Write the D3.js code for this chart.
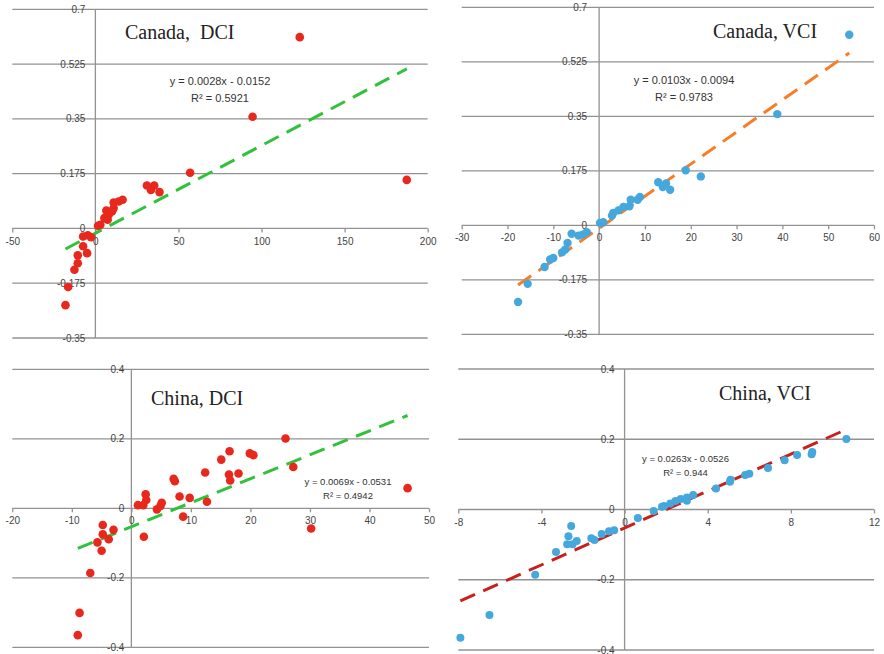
<!DOCTYPE html>
<html>
<head>
<meta charset="utf-8">
<script src="https://cdn.jsdelivr.net/npm/d3@7"></script>
<style>
  html, body { margin: 0; padding: 0; background: #fff; }
  svg { display: block; }
  .tick-label { font-family: "Liberation Sans", Arial, sans-serif; fill: #444; }
  .title { font-family: "Liberation Serif", "Times New Roman", serif; fill: #222; }
  .eq { font-family: "Liberation Sans", Arial, sans-serif; fill: #333; }
</style>
</head>
<body>
<svg id="chart" width="884" height="654"></svg>
<script>
// ---- data ----
const canadaDci = [
  [123, 0.611], [94.6, 0.357], [187.4, 0.155], [57, 0.178],
  [31, 0.137], [35.4, 0.137], [33.4, 0.123], [38.6, 0.116],
  [16.4, 0.0915], [14, 0.086], [11, 0.083], [11, 0.065], [10, 0.054],
  [6.6, 0.057], [8, 0.044], [5.4, 0.033], [7.4, 0.028], [3, 0.012], [1.6, 0.0085],
  [-2.6, -0.028], [-4.6, -0.022], [-7.4, -0.026], [-7.4, -0.057], [-5, -0.079],
  [-10.6, -0.086], [-10.6, -0.111], [-12.6, -0.132], [-16.4, -0.187], [-18, -0.245]
];
const canadaVci = [
  [54.6, 0.612], [38.9, 0.357], [18.9, 0.177], [22.2, 0.157],
  [12.9, 0.138], [13.9, 0.123], [14.6, 0.134], [15.5, 0.114],
  [8.9, 0.091], [8.4, 0.082], [6.9, 0.082], [6.6, 0.061], [5.3, 0.059],
  [4.2, 0.048], [3.1, 0.040], [2.8, 0.031], [0.9, 0.0096], [0.2, 0.0075],
  [-6, -0.027], [-4.5, -0.033], [-3.6, -0.03], [-2.7, -0.022], [-6.9, -0.057],
  [-7.4, -0.078], [-8.1, -0.087], [-10, -0.105], [-10.7, -0.110],
  [-11.9, -0.134], [-15.6, -0.188], [-17.7, -0.246]
];
const chinaDci = [
  [25.9, 0.201], [27.2, 0.119], [46.4, 0.058], [30.2, -0.058],
  [16.5, 0.164], [15.1, 0.140], [19.9, 0.158], [20.5, 0.153], [12.4, 0.103],
  [16.4, 0.097], [18, 0.1], [16.6, 0.08], [7.1, 0.085], [7.3, 0.078],
  [8.1, 0.034], [9.8, 0.03], [12.7, 0.019], [8.7, -0.024],
  [2.4, 0.040], [2.5, 0.024], [1.1, 0.009], [2, 0.009], [4.3, -0.003],
  [4.9, 0.007], [5.1, 0.016], [2.1, -0.082],
  [-4.8, -0.048], [-3, -0.062], [-4.8, -0.075], [-3.8, -0.089], [-5.7, -0.098],
  [-5, -0.122], [-6.9, -0.186], [-8.7, -0.301], [-9, -0.365]
];
const chinaVci = [
  [10.67, 0.201], [9.03, 0.164], [9.0, 0.157], [8.3, 0.155], [7.7, 0.140],
  [6.9, 0.118], [6.0, 0.102], [5.8, 0.098], [5.1, 0.085], [5.07, 0.079],
  [4.4, 0.060], [3.3, 0.041], [3.0, 0.034], [3.0, 0.025], [2.7, 0.030],
  [2.45, 0.024], [2.2, 0.017], [1.9, 0.010], [1.8, 0.008], [1.4, -0.004],
  [0.64, -0.024], [-0.5, -0.059], [-0.75, -0.062], [-1.1, -0.070],
  [-1.45, -0.087], [-1.6, -0.082], [-2.3, -0.090], [-2.57, -0.047],
  [-2.7, -0.076], [-2.76, -0.099], [-2.5, -0.099], [-3.3, -0.121],
  [-4.3, -0.186], [-6.5, -0.300], [-7.9, -0.365]
];

const canadaXTicks = [-50, 0, 50, 100, 150, 200];
const canadaVciXTicks = [-30, -20, -10, 0, 10, 20, 30, 40, 50, 60];
const chinaDciXTicks = [-20, -10, 0, 10, 20, 30, 40, 50];
const chinaVciXTicks = [-8, -4, 0, 4, 8, 12];
const canadaYTicks = [-0.35, -0.175, 0, 0.175, 0.35, 0.525, 0.7];
const chinaYTicks = [-0.4, -0.2, 0, 0.2, 0.4];

// trend line coefficients and labels [slope, intercept, equation, r2]
const canadaDciFit = [0.0028, -0.0152, 'y = 0.0028x - 0.0152', 'R² = 0.5921'];
const canadaVciFit = [0.0103, -0.0094, 'y = 0.0103x - 0.0094', 'R² = 0.9783'];
const chinaDciFit = [0.0069, -0.0531, 'y = 0.0069x - 0.0531', 'R² = 0.4942'];
const chinaVciFit = [0.0263, -0.0526, 'y = 0.0263x - 0.0526', 'R² = 0.944'];

const svg = d3.select('#chart');

function drawPanel(opts) {
  const x = d3.scaleLinear().domain(d3.extent(opts.xTicks)).range(opts.xRange);
  const y = d3.scaleLinear().domain(d3.extent(opts.yTicks)).range(opts.yRange);
  const g = svg.append('g');

  // horizontal gridlines
  g.selectAll('line.grid')
    .data(opts.yTicks)
    .enter().append('line')
      .attr('x1', opts.xRange[0])
      .attr('x2', opts.xRange[1])
      .attr('y1', (d) => y(d))
      .attr('y2', (d) => y(d))
      .attr('stroke', '#929292')
      .attr('stroke-width', 1.3);

  // vertical axis line at x = 0
  g.append('line')
    .attr('x1', x(0)).attr('x2', x(0))
    .attr('y1', opts.yRange[1]).attr('y2', opts.yRange[0])
    .attr('stroke', '#929292')
    .attr('stroke-width', 1.3);

  // x axis along y = 0
  const xAxis = g.append('g')
    .attr('transform', `translate(0,${y(0)})`)
    .call(d3.axisBottom(x).tickValues(opts.xTicks).tickSize(4).tickPadding(5)
      .tickFormat((d) => d));
  xAxis.select('.domain').remove();
  xAxis.selectAll('.tick line').attr('stroke', '#929292').attr('stroke-width', 1.3);
  xAxis.selectAll('.tick text')
    .attr('class', 'tick-label')
    .style('font-size', opts.tickSize + 'px')
    .attr('fill', null);

  // y tick labels left of the vertical axis
  g.selectAll('text.ylab')
    .data(opts.yTicks)
    .enter().append('text')
      .attr('class', 'tick-label')
      .attr('x', x(0) - opts.yLabelGap)
      .attr('y', (d) => y(d))
      .attr('dy', '0.35em')
      .attr('text-anchor', 'end')
      .style('font-size', opts.tickSize + 'px')
      .text((d) => d);

  // trend line across the data range
  const [slope, intercept, eq, r2] = opts.fit;
  const xs = d3.extent(opts.data, (d) => d[0]);
  g.append('path')
    .datum(xs.map((v) => [v, slope * v + intercept]))
    .attr('fill', 'none')
    .attr('stroke', opts.lineColor)
    .attr('stroke-width', 3)
    .attr('stroke-dasharray', '16,9')
    .attr('d', d3.line().x((d) => x(d[0])).y((d) => y(d[1])));

  // points
  g.selectAll('circle')
    .data(opts.data)
    .enter().append('circle')
      .attr('cx', (d) => x(d[0]))
      .attr('cy', (d) => y(d[1]))
      .attr('r', opts.r)
      .attr('fill', opts.dotColor);

  // title
  g.append('text')
    .attr('class', 'title')
    .attr('x', opts.titlePos[0])
    .attr('y', opts.titlePos[1])
    .style('font-size', '20px')
    .attr('xml:space', 'preserve')
    .text(opts.title);

  // equation
  const eqText = g.append('text')
    .attr('class', 'eq')
    .attr('text-anchor', 'middle')
    .style('font-size', opts.eqSize + 'px');
  eqText.append('tspan').attr('x', opts.eqPos[0]).attr('y', opts.eqPos[1]).text(eq);
  eqText.append('tspan').attr('x', opts.eqPos[0]).attr('y', opts.eqPos[1] + opts.eqGap).text(r2);
}

drawPanel({
  data: canadaDci, fit: canadaDciFit, xTicks: canadaXTicks, yTicks: canadaYTicks,
  xRange: [12.3, 427.7], yRange: [338, 9.3],
  dotColor: '#e8281c', lineColor: '#2fc23a', r: 4.3,
  title: 'Canada,  DCI', titlePos: [125, 38.5],
  eqPos: [220, 85], eqGap: 17, eqSize: 11, tickSize: 10, yLabelGap: 10
});
drawPanel({
  data: canadaVci, fit: canadaVciFit, xTicks: canadaVciXTicks, yTicks: canadaYTicks,
  xRange: [461.7, 874], yRange: [334.3, 7.3],
  dotColor: '#45a8dd', lineColor: '#f57f29', r: 4.2,
  title: 'Canada, VCI', titlePos: [713, 38],
  eqPos: [684, 84], eqGap: 17, eqSize: 11, tickSize: 10, yLabelGap: 12
});
drawPanel({
  data: chinaDci, fit: chinaDciFit, xTicks: chinaDciXTicks, yTicks: chinaYTicks,
  xRange: [12.3, 429], yRange: [647.3, 369.3],
  dotColor: '#e8281c', lineColor: '#2fc23a', r: 4.3,
  title: 'China, DCI', titlePos: [151, 405],
  eqPos: [348, 485], eqGap: 13.5, eqSize: 9.5, tickSize: 10, yLabelGap: 7
});
drawPanel({
  data: chinaVci, fit: chinaVciFit, xTicks: chinaVciXTicks, yTicks: chinaYTicks,
  xRange: [458.3, 874], yRange: [650, 369],
  dotColor: '#45a8dd', lineColor: '#c8201c', r: 4,
  title: 'China, VCI', titlePos: [719, 399.5],
  eqPos: [685.5, 462], eqGap: 14, eqSize: 9.5, tickSize: 10, yLabelGap: 10
});
</script>
</body>
</html>
